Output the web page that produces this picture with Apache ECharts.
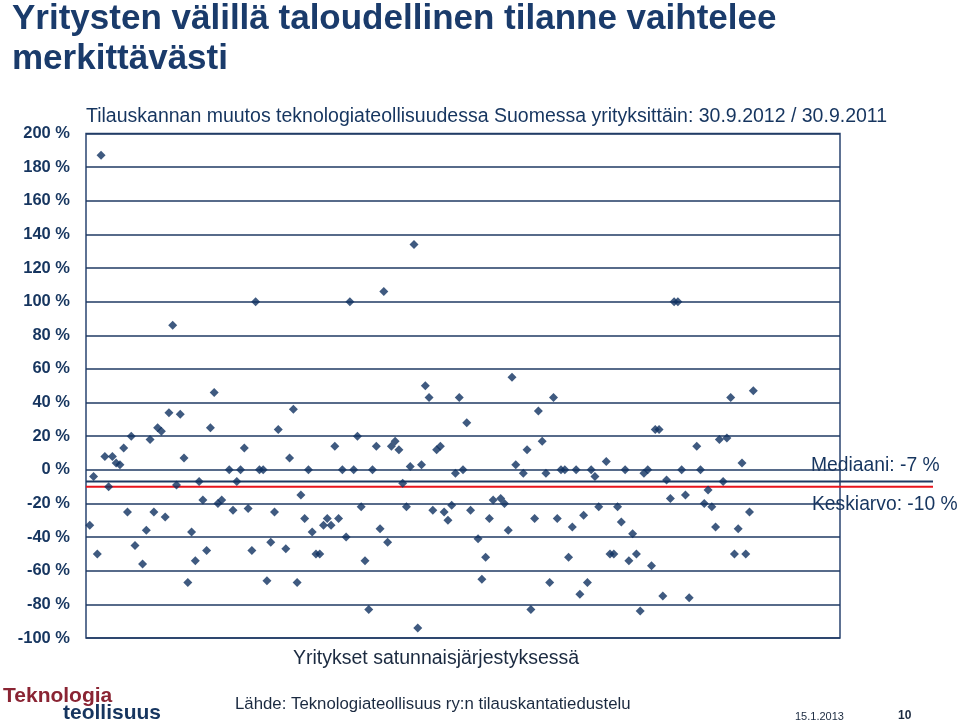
<!DOCTYPE html>
<html><head><meta charset="utf-8">
<script src="https://cdn.jsdelivr.net/npm/echarts/dist/echarts.min.js"></script>
<style>html,body{margin:0;padding:0;background:#fff}#c{width:960px;height:723px}</style>
</head><body><div id="c"></div>
<script>
// Company position in random order (x) and order-book change % (y)
const companyIndex = [1,2,3,4,5,6,7,8,9,10,11,12,13,15,16,17,18,19,20,21,22,23,24,25,26,27,28,29,30,31,32,33,34,35,36,38,39,40,41,42,43,44,45,46,47,48,49,50,51,53,54,55,56,57,58,59,60,61,62,63,64,65,66,67,68,69,70,71,72,73,74,75,76,77,78,79,80,81,82,83,84,85,86,87,88,89,90,91,92,93,94,95,96,97,98,99,100,101,102,104,105,106,107,108,110,111,112,113,114,116,117,118,119,120,121,122,123,124,125,126,127,128,129,130,131,132,133,134,135,136,138,139,140,141,142,143,144,145,146,147,148,149,150,151,152,153,154,155,156,157,158,159,160,162,163,164,165,166,167,168,169,170,171,172,173,174,175,176,177];
const changePct = [-33,-4,-50,187,8,-10,8,4,3,13,-25,20,-45,-56,-36,18,-25,25,23,-28,34,86,-9,33,7,-67,-37,-54,-7,-18,-48,25,46,-20,-18,0,-24,-7,0,13,-23,-48,100,0,0,-66,-43,-25,24,-47,7,36,-67,-15,-29,0,-37,-50,-50,-33,-29,-33,14,-29,0,-40,100,0,20,-22,-54,-83,0,14,-35,106,-43,14,17,12,-8,-22,2,134,-94,3,50,43,-24,12,14,-25,-30,-21,-2,43,0,28,-24,-41,-65,-52,-29,-18,-17,-20,-36,55,3,-2,12,-83,-29,35,17,-2,-67,43,-29,0,0,-52,-34,0,-74,-27,-67,0,-4,-22,5,-50,-50,-22,-31,0,-54,-38,-50,-84,-2,0,-57,24,24,-75,-6,-17,100,100,0,-15,-76,14,0,-20,-12,-22,-34,18,-7,19,43,-50,-35,4,-50,-25,47];
const yMin = -100, yMax = 200, yStep = 20;
const medianPct = -7;
const meanPct = -10;
const titleLines = ['Yritysten välillä taloudellinen tilanne vaihtelee', 'merkittävästi'];
const subtitle = 'Tilauskannan muutos teknologiateollisuudessa Suomessa yrityksittäin: 30.9.2012 / 30.9.2011';
const xName = 'Yritykset satunnaisjärjestyksessä';
const source = 'Lähde: Teknologiateollisuus ry:n tilauskantatiedustelu';

const NAVY = '#16355f';
const FONT = '"Liberation Sans", Arial';
const chart = echarts.init(document.getElementById('c'));
const points = companyIndex.map((x, i) => [x, changePct[i]]);
chart.setOption({
  animation: false,
  backgroundColor: '#fff',
  grid: [
    {left: 86, right: 120, top: 133.5, bottom: 85, show: true, borderColor: '#2a4470', borderWidth: 1.5},
    {left: 86, right: 27, top: 133.5, bottom: 85}
  ],
  xAxis: [
    {type: 'value', min: 0, max: 200, show: false, splitLine: {show: false}},
    {type: 'value', gridIndex: 1, min: 0, max: 1, show: false}
  ],
  yAxis: [
    {type: 'value', min: yMin, max: yMax, interval: yStep,
     axisLine: {show: false}, axisTick: {show: false},
     axisLabel: {formatter: '{value} %', fontFamily: FONT, fontWeight: 'bold', fontSize: 16.5, color: NAVY, margin: 16},
     splitLine: {lineStyle: {color: '#1f3a63', width: 1.5}}},
    {type: 'value', gridIndex: 1, min: yMin, max: yMax, show: false}
  ],
  series: [
    {type: 'line', xAxisIndex: 1, yAxisIndex: 1, data: [[0, medianPct], [1, medianPct]], symbol: 'none', silent: true,
     lineStyle: {color: '#1f3a63', width: 2}, z: 1},
    {type: 'line', xAxisIndex: 1, yAxisIndex: 1, data: [[0, meanPct], [1, meanPct]], symbol: 'none', silent: true,
     lineStyle: {color: '#e8141c', width: 2}, z: 1},
    {type: 'scatter', data: points, symbol: 'diamond', symbolSize: 9,
     itemStyle: {color: '#0f3160'}, z: 3}
  ],
  graphic: [
    {type: 'text', left: 12, top: 2, style: {text: titleLines[0], font: 'bold 35px ' + FONT, fill: '#1a3b6b'}},
    {type: 'text', left: 12, top: 42, style: {text: titleLines[1], font: 'bold 35px ' + FONT, fill: '#1a3b6b'}},
    {type: 'text', left: 86, top: 107, style: {text: subtitle, font: '19.5px ' + FONT, fill: NAVY}},
    {type: 'text', left: 293, top: 649, style: {text: xName, font: '19.5px ' + FONT, fill: '#1b2a40'}},
    {type: 'text', left: 811, top: 456, style: {text: 'Mediaani: ' + medianPct + ' %', font: '19.3px ' + FONT, fill: NAVY}},
    {type: 'text', left: 812, top: 495, style: {text: 'Keskiarvo: ' + meanPct + ' %', font: '19.3px ' + FONT, fill: NAVY}},
    {type: 'text', left: 3, top: 686, style: {text: 'Teknologia', font: 'bold 21px ' + FONT, fill: '#8a2433'}},
    {type: 'text', left: 63, top: 703, style: {text: 'teollisuus', font: 'bold 21px ' + FONT, fill: NAVY}},
    {type: 'text', left: 235, top: 696, style: {text: source, font: '16.8px ' + FONT, fill: '#1b2a40'}},
    {type: 'text', left: 795, top: 711, style: {text: '15.1.2013', font: '11px ' + FONT, fill: '#1b2a40'}},
    {type: 'text', left: 898, top: 710, style: {text: '10', font: 'bold 12px ' + FONT, fill: '#1b2a40'}}
  ]
});
</script></body></html>
